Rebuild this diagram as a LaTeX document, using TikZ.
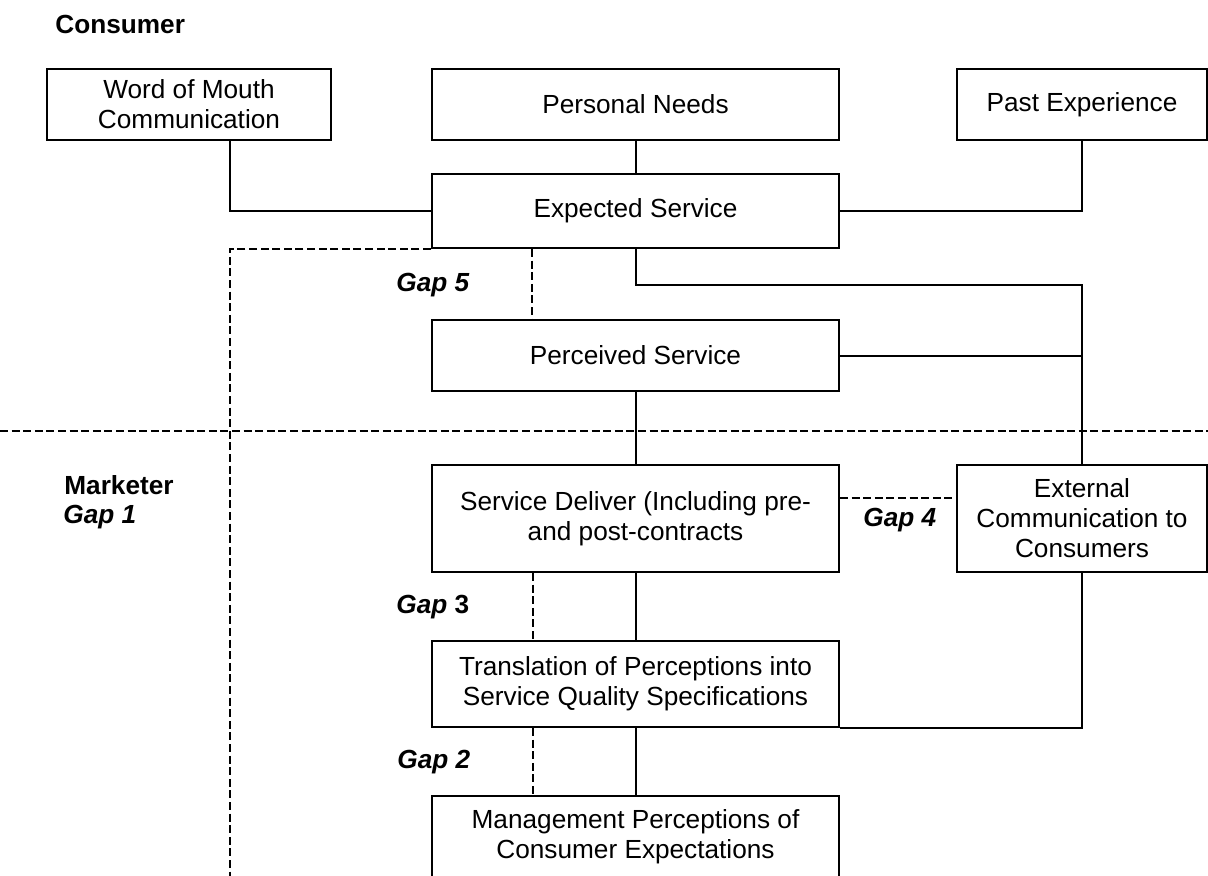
\documentclass[tikz,border=0pt]{standalone}
\usepackage{fontspec}
\setmainfont{Liberation Sans}
\usetikzlibrary{calc}
\begin{document}
\begin{tikzpicture}[x=0.5pt,y=-0.5pt,
  box/.style={draw,line width=1pt,align=center,inner sep=2pt,
    font=\fontsize{13.1}{15}\selectfont},
  conn/.style={line width=1pt},
  gapline/.style={line width=0.9pt,dash pattern=on 4pt off 1.8pt},
  lbl/.style={anchor=west,inner sep=0pt,font=\fontsize{13.1}{15}\selectfont\bfseries}]
\path[use as bounding box, clip] (0,0) rectangle (1208,875);

% boxes
\node[box,minimum width=142pt,minimum height=35.5pt] (wom) at (189,104.5) {Word of Mouth\\Communication};
\node[box,minimum width=203.5pt,minimum height=35.5pt] (pn) at (635.5,104.5) {Personal Needs};
\node[box,minimum width=125pt,minimum height=35.5pt] (pe) at (1082,104.5) {Past Experience};
\node[box,minimum width=203.5pt,minimum height=37pt] (es) at (635.5,211) {Expected Service};
\node[box,minimum width=203.5pt,minimum height=35.5pt] (ps) at (635.5,355.5) {Perceived Service};
\node[box,minimum width=203.5pt,minimum height=53.5pt] (sd) at (635.5,518.5) {Service Deliver (Including pre-\\and post-contracts};
\node[box,minimum width=125pt,minimum height=53.5pt] (ext) at (1082,518.5) {External\\Communication to\\Consumers};
\node[box,minimum width=203.5pt,minimum height=43pt] (tr) at (635.5,684) {Translation of Perceptions into\\Service Quality Specifications};
\node[box,minimum width=203.5pt,minimum height=41pt] (mg) at (635.5,837) {Management Perceptions of\\Consumer Expectations};

% labels
\node[lbl] (consumer) at (55,24) {Consumer};
\node[lbl] (marketer) at (64,485) {Marketer};
\node[lbl] (g1) at (63,517) {\itshape Gap 1};
\node[lbl] (g5) at (396,285) {\itshape Gap 5};
\node[lbl] (g4) at (863,520) {\itshape Gap 4};
\node[lbl] (g3) at (396,607) {\textit{Gap} 3};
\node[lbl] (g2) at (397,762) {\itshape Gap 2};

% coordinates
\coordinate (sepL) at (0,431);
\coordinate (sepR) at (1208,431);
\coordinate (dlend) at (230,880);

% solid connectors
\draw[conn] ([xshift=20.5pt]wom.south) |- (es.west);
\draw[conn] (pn.south) -- (es.north);
\draw[conn] (pe.south) |- (es.east);
\draw[conn] (es.south) -- ++(0,36) -| (ext.north);
\draw[conn] (ps.east) -- (ps.east -| ext.north);
\draw[conn] (ps.south) -- (sd.north);
\draw[conn] (sd.south) -- (tr.north);
\draw[conn] (tr.south) -- (mg.north);
\draw[conn] (ext.south) |- (tr.south east);

% dashed connectors
\draw[gapline] (sepL) -- (sepR);
\draw[gapline] (es.south west) -| (dlend);
\draw[gapline] ([xshift=50.5pt]es.south west) -- ([xshift=50.5pt]ps.north west);
\draw[gapline] ([xshift=51pt]sd.south west) -- ([xshift=51pt]tr.north west);
\draw[gapline] ([xshift=51pt]tr.south west) -- ([xshift=51pt]mg.north west);
\draw[gapline] ([yshift=-17pt]sd.north east) -- ([yshift=-17pt]ext.north west);
\end{tikzpicture}
\end{document}
